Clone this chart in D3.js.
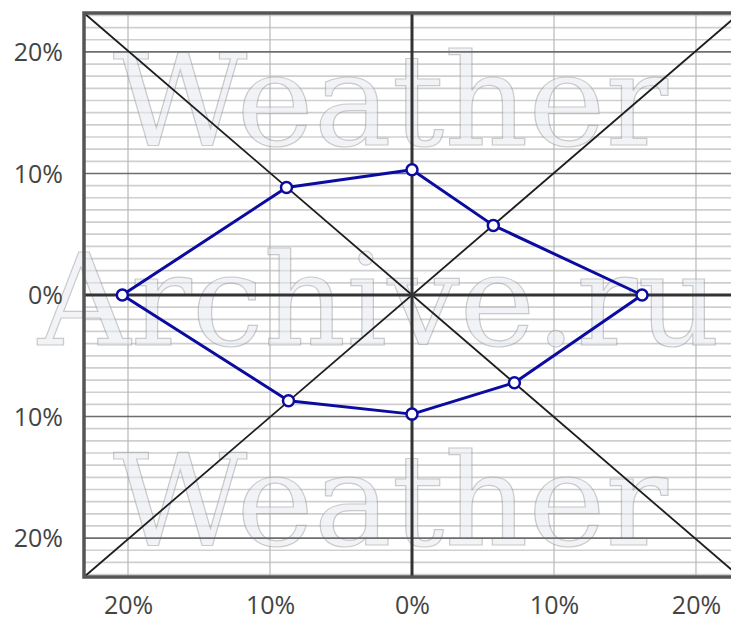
<!DOCTYPE html>
<html><head><meta charset="utf-8">
<script src="https://cdn.jsdelivr.net/npm/d3@7"></script>
<style>html,body{margin:0;padding:0;background:#fff;overflow:hidden}</style>
</head><body>
<svg id="chart" width="731" height="618"></svg>
<script>
// Data
const directions = ["N","NE","E","SE","S","SW","W","NW"];
const angles = [0,45,90,135,180,225,270,315];
const values = [10.3, 8.1, 16.2, 10.2, 9.8, 12.3, 20.4, 12.5]; // % frequency
const xTickValues = [-20,-10,0,10,20];
const yTickValues = [-20,-10,0,10,20];
const minorTicks = d3.range(-23, 24, 1);
const watermarkLines = ["Weather","Archive.ru","Weather"];

const svg = d3.select("#chart");
const x = d3.scaleLinear().domain([-23.1, 23.1]).range([84, 740]);
const y = d3.scaleLinear().domain([-23.2, 23.2]).range([577, 13]);

const g = svg.append("g");
g.append("rect").attr("x", x(-23.1)).attr("y", y(23.2)).attr("width", x(23.1)-x(-23.1)).attr("height", y(-23.2)-y(23.2)).attr("fill","#fff");

// minor horizontal lines
g.selectAll("line.minor").data(minorTicks.filter(d => d % 10 !== 0)).join("line")
  .attr("x1", x(-23.1)).attr("x2", x(23.1))
  .attr("y1", d => y(d)).attr("y2", d => y(d))
  .attr("stroke", "#cfcfcf").attr("stroke-width", 1.7);

// vertical grid lines
g.selectAll("line.vgrid").data(xTickValues.filter(d => d !== 0)).join("line")
  .attr("x1", d => x(d)).attr("x2", d => x(d))
  .attr("y1", y(23.2)).attr("y2", y(-23.2))
  .attr("stroke", "#b8b8b8").attr("stroke-width", 1.2);

// watermark
const wm = g.append("g").attr("opacity", 0.55);
const wmPos = [{x0: 113, base: 145, w: 555}, {x0: 38, base: 345, w: 682}, {x0: 113, base: 545, w: 555}];
wm.selectAll("text").data(watermarkLines).join("text")
  .attr("x", (d,i) => wmPos[i].x0).attr("y", (d,i) => wmPos[i].base)
  .attr("textLength", (d,i) => wmPos[i].w).attr("lengthAdjust", "spacingAndGlyphs")
  .attr("font-family", "DejaVu Serif").attr("font-size", 128)
  .attr("fill", "#e6ebf2").attr("stroke", "#a0a0a0").attr("stroke-width", 1.2)
  .text(d => d);

// major horizontal lines
g.selectAll("line.major").data(yTickValues.filter(d => d !== 0)).join("line")
  .attr("x1", x(-23.1)).attr("x2", x(23.1))
  .attr("y1", d => y(d)).attr("y2", d => y(d))
  .attr("stroke", "#6e6e6e").attr("stroke-width", 1.6);

// diagonals
g.append("line").attr("x1", x(-23.1)).attr("y1", y(23.2)).attr("x2", x(23.1)).attr("y2", y(-23.2))
  .attr("stroke", "#1e1e1e").attr("stroke-width", 1.8);
g.append("line").attr("x1", x(-23.1)).attr("y1", y(-23.2)).attr("x2", x(23.1)).attr("y2", y(23.2))
  .attr("stroke", "#1e1e1e").attr("stroke-width", 1.8);

// center axes
g.append("line").attr("x1", x(-23.1)).attr("x2", x(23.1)).attr("y1", y(0)).attr("y2", y(0))
  .attr("stroke", "#333").attr("stroke-width", 3);
g.append("line").attr("x1", x(0)).attr("x2", x(0)).attr("y1", y(23.2)).attr("y2", y(-23.2))
  .attr("stroke", "#333").attr("stroke-width", 3);

// frame
g.append("path")
  .attr("d", `M${x(23.1)},${y(23.2)} L${x(-23.1)},${y(23.2)} L${x(-23.1)},${y(-23.2)} L${x(23.1)},${y(-23.2)}`)
  .attr("fill", "none").attr("stroke", "#555").attr("stroke-width", 3.5);

// data polygon
const pts = values.map((v,i) => {
  const a = angles[i] * Math.PI / 180;
  return [x(v * Math.sin(a)), y(v * Math.cos(a))];
});
g.append("path").attr("d", d3.line().curve(d3.curveLinearClosed)(pts))
  .attr("fill", "none").attr("stroke", "#0b0ba0").attr("stroke-width", 3).attr("stroke-linejoin","round");
g.selectAll("circle.pt").data(pts).join("circle")
  .attr("cx", d => d[0]).attr("cy", d => d[1]).attr("r", 5.5)
  .attr("fill", "#fff").attr("stroke", "#0b0ba0").attr("stroke-width", 2.5);

// axis labels
const ya = svg.append("g").attr("transform", "translate(63,0)").call(d3.axisLeft(y).tickValues(yTickValues).tickSize(0).tickPadding(0).tickFormat(d => Math.abs(d) + "%"));
ya.select(".domain").remove();
ya.selectAll("text").attr("font-family", "Open Sans").attr("font-size", 25).attr("fill", "#444").attr("dy", "0.35em");

const xa = svg.append("g").attr("transform", "translate(0,605)").call(d3.axisBottom(x).tickValues(xTickValues).tickSize(0).tickPadding(0).tickFormat(d => Math.abs(d) + "%"));
xa.select(".domain").remove();
xa.selectAll("text").attr("font-family", "Open Sans").attr("font-size", 25).attr("fill", "#444").attr("dy", "0.35em");
</script>
</body></html>
